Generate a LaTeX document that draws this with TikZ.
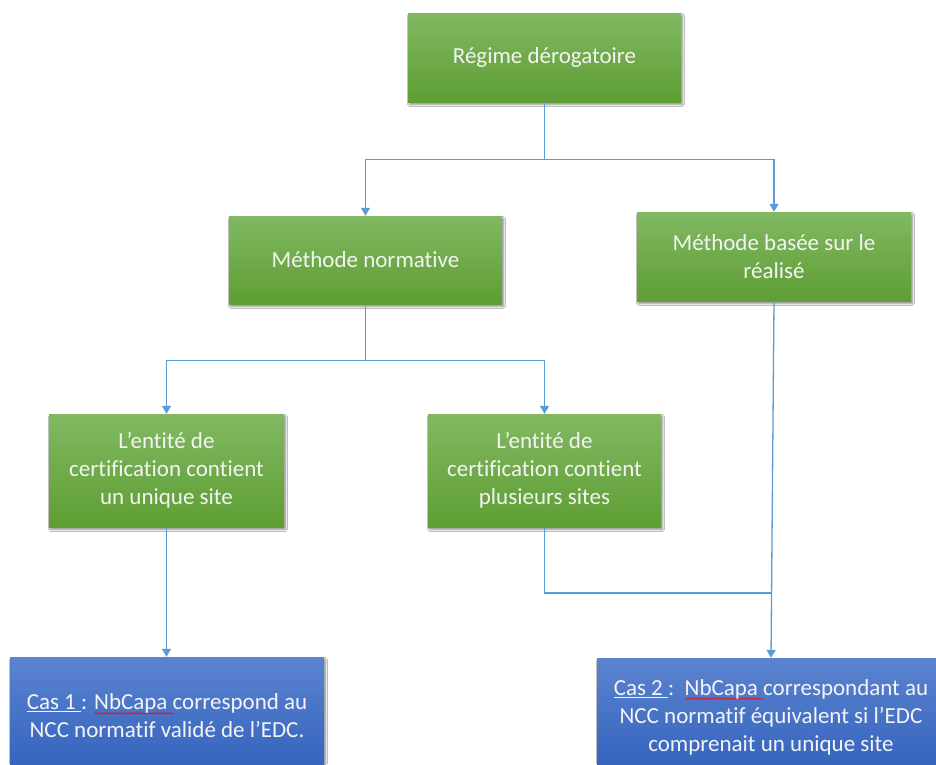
\documentclass[tikz,border=0pt]{standalone}
\usepackage{fontspec}
\setmainfont{Carlito}[Ligatures={NoCommon}]
\usetikzlibrary{arrows.meta,shadows.blur,calc,decorations.pathmorphing}
\definecolor{gtop}{HTML}{81B862}
\definecolor{gbot}{HTML}{5E9E33}
\definecolor{btop}{HTML}{5B83CF}
\definecolor{bbot}{HTML}{3262BD}
\definecolor{conncol}{HTML}{5B9BD5}
\definecolor{txt}{HTML}{F4F4F4}
\newlength\wavelen
\newcommand\redwave[1]{\settowidth\wavelen{#1}\rlap{\tikz[baseline=0pt]\draw[red,line width=0.6pt,decorate,decoration={snake,amplitude=0.8pt,segment length=3pt}] (0pt,-3.5pt) -- (\wavelen,-3.5pt);}#1}
\begin{document}
\begin{tikzpicture}[x=1pt,y=-1pt,
 box/.style={align=center, inner sep=0pt, text=txt, font=\fontsize{23}{28}\selectfont,
   blur shadow={shadow xshift=1.5pt,shadow yshift=-2.5pt,shadow blur steps=6,shadow opacity=45}},
 gbox/.style={box, top color=gtop, bottom color=gbot},
 bbox/.style={box, top color=btop, bottom color=bbot},
 conn/.style={draw=conncol, line width=1.3pt},
 arr/.style={conn, -{Triangle[length=8pt,width=9pt]}}]
\useasboundingbox (0,0) rectangle (936,764);
\clip (0,0) rectangle (936,764);
\fill[white] (0,0) rectangle (936,764);

\node[gbox, minimum width=273pt, minimum height=89pt] (R) at (544.5,57.5) {Régime dérogatoire};
\node[gbox, minimum width=273pt, minimum height=88pt] (MN) at (365.5,260) {Méthode normative};
\node[gbox, minimum width=274pt, minimum height=89pt] (MB) at (774,256.5) {Méthode basée sur le\\réalisé};
\node[gbox, minimum width=235pt, minimum height=113pt] (E1) at (166.5,470.5) {L’entité de\\certification contient\\un unique site};
\node[gbox, minimum width=233pt, minimum height=113pt] (E2) at (544.5,470.5) {L’entité de\\certification contient\\plusieurs sites};
\node[bbox, minimum width=314pt, minimum height=118pt] (C1) at (167,716) {\underline{Cas 1 }: \redwave{NbCapa }correspond au\\NCC normatif validé de l’EDC.};
\node[bbox, minimum width=348pt, minimum height=118pt] (C2) at (771,717) {\underline{Cas 2 }:\ \ \redwave{NbCapa }correspondant au\\NCC normatif équivalent si l’EDC\\comprenait un unique site};

\draw[conn] (R.south) -- ++(0,57) coordinate (j1);
\draw[arr] (j1) -| (MN.north);
\draw[arr] (j1) -| (MB.north);
\draw[conn] (MN.south) -- ++(0,56) coordinate (j2);
\draw[arr] (j2) -| (E1.north);
\draw[arr] (j2) -| (E2.north);
\draw[arr] (E1.south) -- (E1.south |- C1.north);
\draw[arr] (MB.south) -- (C2.north);
\coordinate (m) at ($(MB.south)!0.818!(C2.north)$);
\draw[conn] (E2.south) |- (m);
\end{tikzpicture}
\end{document}
